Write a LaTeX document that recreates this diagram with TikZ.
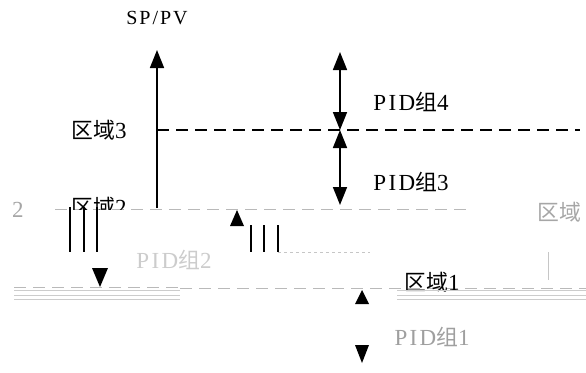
\documentclass[tikz,border=0pt]{standalone}
\usepackage{fontspec}
\setmainfont{Liberation Serif}[LetterSpace=10]
\newfontfamily\cjk{Noto Sans CJK SC}[Scale=0.95]
\usetikzlibrary{arrows.meta}
\begin{document}
\begin{tikzpicture}[x=1pt,y=-1pt,
  axis/.style={line width=1.6pt,-{Triangle[length=18pt,width=14pt]}},
  dbl/.style={line width=1.6pt,{Triangle[length=18pt,width=14pt]}-{Triangle[length=18pt,width=14pt]}},
  zone/.style={line width=1.2pt,dash pattern=on 12pt off 7pt},
  fzone/.style={line width=1pt,gray!55,dash pattern=on 12pt off 7pt},
  lbl/.style={font=\fontsize{23}{26}\selectfont,inner sep=0pt},
  head/.style={fill=black,draw=none},
  vline/.style={line width=1.3pt},
  ghost/.style={gray!45,line width=0.8pt}]
\useasboundingbox (0,0) rectangle (586,372);
% coordinates
\coordinate (o) at (157,208);
\coordinate (top) at (157,50);
\coordinate (z3l) at (157,130);
\coordinate (z3r) at (580,130);
\coordinate (z2l) at (55,209);
\coordinate (z2r) at (470,209);
\coordinate (z1l) at (180,288);
\coordinate (z1r) at (586,288);
\coordinate (a4t) at (340,52);
\coordinate (a4b) at (340,130);
\coordinate (a3b) at (340,205);
% axis and zone lines
\draw[axis] (o) -- (top);
\draw[zone] (z3l) -- (z3r);
\draw[fzone] (z2l) -- (z2r);
\draw[fzone] (z1l) -- (z1r);
\draw[dbl] (a4b) -- (a4t);
\draw[dbl] (a4b) -- (a3b);
% labels
\node[lbl,font=\fontsize{20}{23}\selectfont] (sp) at (157,18) {SP/PV};
\node[lbl] (r3) at (99,130) {{\cjk 区域}3};
\node[lbl] (p4) at (411,102) {PID{\cjk 组}4};
\node[lbl] (p3) at (411,182) {PID{\cjk 组}3};
\begin{scope}
\clip (50,190) rectangle (140,209);
\node[lbl] (r2) at (99,207) {{\cjk 区域}2};
\end{scope}
\node[lbl,gray!70,anchor=west] (r2b) at (537,212) {\cjk 区域};
\node[lbl,gray!70] (res2) at (18,210) {2};
\node[lbl] (r1) at (432,282) {{\cjk 区域}1};
\node[lbl,gray!40] (p2) at (174,260) {PID{\cjk 组}2};
\node[lbl,gray!75] (p1) at (432,337) {PID{\cjk 组}1};
% vertical line groups
\foreach \x in {70,84,97} \draw[vline] (\x,207) -- (\x,252);
\foreach \x in {251,264,278} \draw[vline] (\x,225) -- (\x,252);
\coordinate (hl1) at (278,252);
\coordinate (hl2) at (370,252);
\draw[ghost,dashed] (hl1) -- (hl2);
\coordinate (gv1) at (548,252);
\coordinate (gv2) at (548,280);
\draw[ghost] (gv1) -- (gv2);
% loose arrow heads
\fill[head] (92,268) -- (108,268) -- (100,287) -- cycle;
\fill[head] (230,226) -- (244,226) -- (237,210) -- cycle;
\fill[head] (355,304) -- (369,304) -- (362,290) -- cycle;
\fill[head] (355,345) -- (369,345) -- (362,363) -- cycle;
% faded band residues
\foreach \y in {290,295,299} {
  \draw[gray!40,line width=0.8pt] (14,\y) -- (180,\y);
  \draw[gray!40,line width=0.8pt] (397,\y) -- (586,\y);
}
\draw[fzone] (14,287) -- (180,287);
\end{tikzpicture}
\end{document}
